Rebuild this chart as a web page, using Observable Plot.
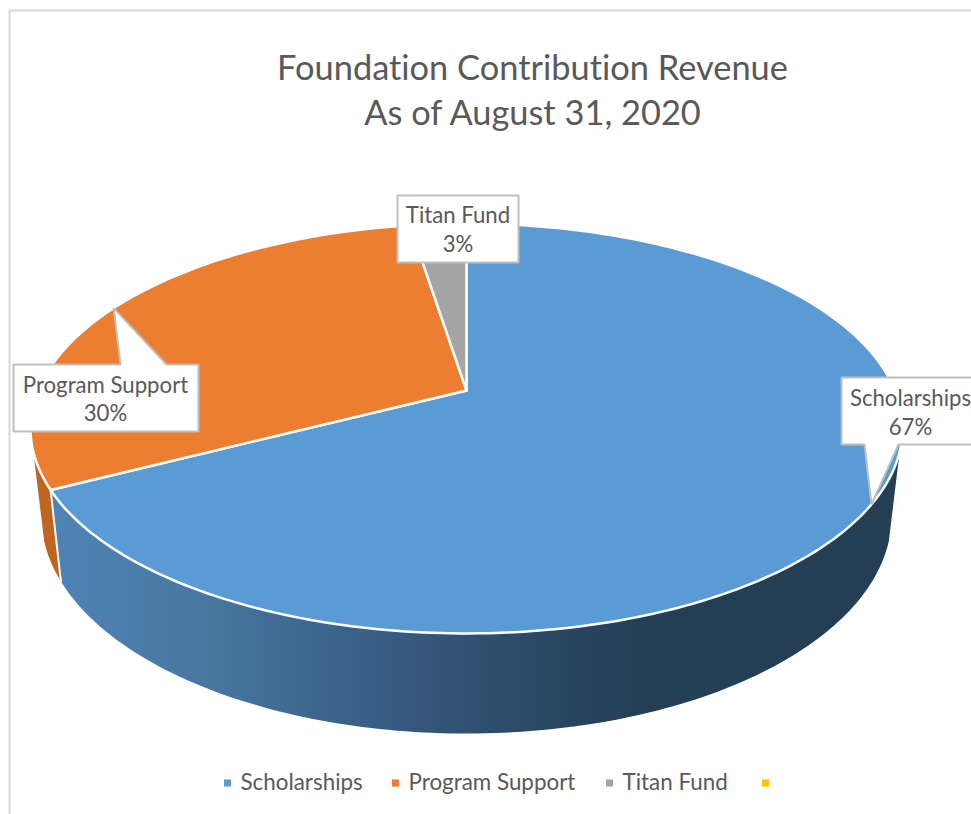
<!DOCTYPE html>
<html>
<head>
<meta charset="utf-8">
<style>html,body{margin:0;padding:0;background:#fff;overflow:hidden}svg{display:block;font-variant-ligatures:none;font-feature-settings:"liga" 0,"clig" 0}</style>
<script src="https://cdn.jsdelivr.net/npm/d3@7"></script>
<script src="https://cdn.jsdelivr.net/npm/@observablehq/plot@0.6"></script>
</head>
<body>
<script>
// Chart values
const categories = ["Scholarships", "Program Support", "Titan Fund", " "];
const shares = [67.4, 30.1, 2.5, 0];
const palette = ["#5b9bd5", "#ed7d31", "#a5a5a5", "#ffc000"];
const titleLines = ["Foundation Contribution Revenue", "As of August 31, 2020"];

// Layout of the tilted disc: a perspective view of a circle
const W = 971, H = 814, FONT = "Lato, 'Open Sans', sans-serif", INK = "#595959";
const topRing = {cx: 466, cy: 390, a: 428.4, b: 197.9, k: 0.1854};
const lowRing = {cx: 466, cy: 475.6, a: 417.6, b: 209.5, k: 0.1863};
const rad = d => d * Math.PI / 180;
const rim = (ring, deg) => {
  const u = Math.sin(rad(deg)), v = -Math.cos(rad(deg)), w = 1 - ring.k * v;
  return {x: ring.cx + ring.a * u / w, y: ring.cy + ring.b * v / w};
};
const arc = (ring, from, to) => {
  const n = Math.max(2, Math.ceil(Math.abs(to - from))), out = [];
  for (let i = 0; i <= n; i++) out.push(rim(ring, from + (to - from) * i / n));
  return out;
};

let running = 0;
const slices = categories.map((category, i) => {
  const from = running * 3.6; running += shares[i];
  return {category, share: shares[i], from, to: running * 3.6, mid: (from + running * 3.6) / 2};
}).filter(d => d.share > 0);

const topRows = slices.flatMap(s =>
  [{x: topRing.cx, y: topRing.cy}, ...arc(topRing, s.from, s.to), {x: topRing.cx, y: topRing.cy}]
    .map(p => ({...p, category: s.category})));

// Visible stretch of the outer wall runs between the two silhouette angles
const wallFrom = 107, wallTo = 253;
const wallRows = slices.map(s => {
  const a = Math.max(s.from, wallFrom), b = Math.min(s.to, wallTo);
  if (a >= b) return null;
  const top = arc(topRing, a, b), low = arc(lowRing, b, a);
  return {category: s.category, pts: [...top, ...low, top[0]]};
}).filter(Boolean);
const seamRows = [rim(topRing, slices[0].to), rim(lowRing, slices[0].to)];

// Callout boxes; the pointer tips land on the rim at each slice's middle angle
const callouts = [
  {i: 0, l: 841, t: 377, r: 985, b: 444, side: "b", p0: 864, p1: 898, tx: 910, ty: [398, 427]},
  {i: 1, l: 13, t: 364, r: 198, b: 431, side: "t", p0: 120, p1: 166, tx: 105, ty: [385, 413]},
  {i: 2, l: 397, t: 195, r: 518, b: 262, side: null, tx: 457.5, ty: [215, 244]}
];
const calloutRows = callouts.flatMap((c, id) => {
  const tip = rim(topRing, slices[c.i].mid);
  let pts;
  if (c.side === "t") pts = [[c.l, c.t], [c.p0, c.t], [tip.x, tip.y], [c.p1, c.t], [c.r, c.t], [c.r, c.b], [c.l, c.b], [c.l, c.t]];
  else if (c.side === "b") pts = [[c.l, c.t], [c.r, c.t], [c.r, c.b], [c.p1, c.b], [tip.x, tip.y], [c.p0, c.b], [c.l, c.b], [c.l, c.t]];
  else pts = [[c.l, c.t], [c.r, c.t], [c.r, c.b], [c.l, c.b], [c.l, c.t]];
  return pts.map(([x, y]) => ({x, y, id}));
});
const calloutText = callouts.flatMap(c => [
  {x: c.tx, y: c.ty[0], text: slices[c.i].category},
  {x: c.tx, y: c.ty[1], text: Math.round(slices[c.i].share) + "%"}
]);

const legendX = [227, 395, 609, 765];
const legendRows = categories.map((category, i) => ({category, x: legendX[i], y: 782.5}));

const gradient = () => {
  const defs = d3.create("svg:defs");
  const g = defs.append("linearGradient").attr("id", "sideBlue")
    .attr("gradientUnits", "userSpaceOnUse")
    .attr("x1", 60).attr("x2", 650).attr("y1", 0).attr("y2", 0);
  [[0, "#4f83b5"], [0.25, "#47779f"], [0.5, "#3a6088"], [0.75, "#2d4c6b"], [1, "#243e54"]]
    .forEach(([o, c]) => g.append("stop").attr("offset", o).attr("stop-color", c));
  return defs.node();
};
const wallFill = {"Scholarships": "url(#sideBlue)", "Program Support": "#c0651f"};

const chart = Plot.plot({
  width: W, height: H, margin: 0,
  x: {domain: [0, W], range: [0, W], axis: null},
  y: {domain: [0, H], range: [0, H], axis: null},
  color: {domain: categories, range: palette},
  marks: [
    gradient,
    Plot.ruleX([9], {y1: 10, y2: H, stroke: "#d9d9d9", strokeWidth: 2}),
    Plot.ruleY([10], {x1: 9, x2: W, stroke: "#d9d9d9", strokeWidth: 2}),
    ...wallRows.map(w => Plot.line(w.pts, {x: "x", y: "y", fill: wallFill[w.category], stroke: "none"})),
    Plot.line(seamRows, {x: "x", y: "y", stroke: "white", strokeWidth: 2}),
    Plot.line(topRows, {x: "x", y: "y", z: "category", fill: "category", stroke: "white", strokeWidth: 2.5}),
    Plot.line(calloutRows, {x: "x", y: "y", z: "id", fill: "white", stroke: "#bfbfbf", strokeWidth: 2, strokeLinejoin: "miter"}),
    Plot.text(calloutText, {x: "x", y: "y", text: "text", fontSize: 22.2, fontFamily: FONT, fill: INK}),
    Plot.text(titleLines, {x: () => 532, y: (d, i) => 68 + i * 45, text: d => d, fontSize: 34.4, fontFamily: FONT, fill: INK}),
    Plot.dot(legendRows, {x: "x", y: "y", symbol: "square", r: 4, fill: "category", stroke: "none"}),
    Plot.text(legendRows, {x: d => d.x + 13, y: "y", text: "category", textAnchor: "start", fontSize: 22.4, fontFamily: FONT, fill: INK})
  ]
});
document.body.appendChild(chart);
</script>
</body>
</html>
